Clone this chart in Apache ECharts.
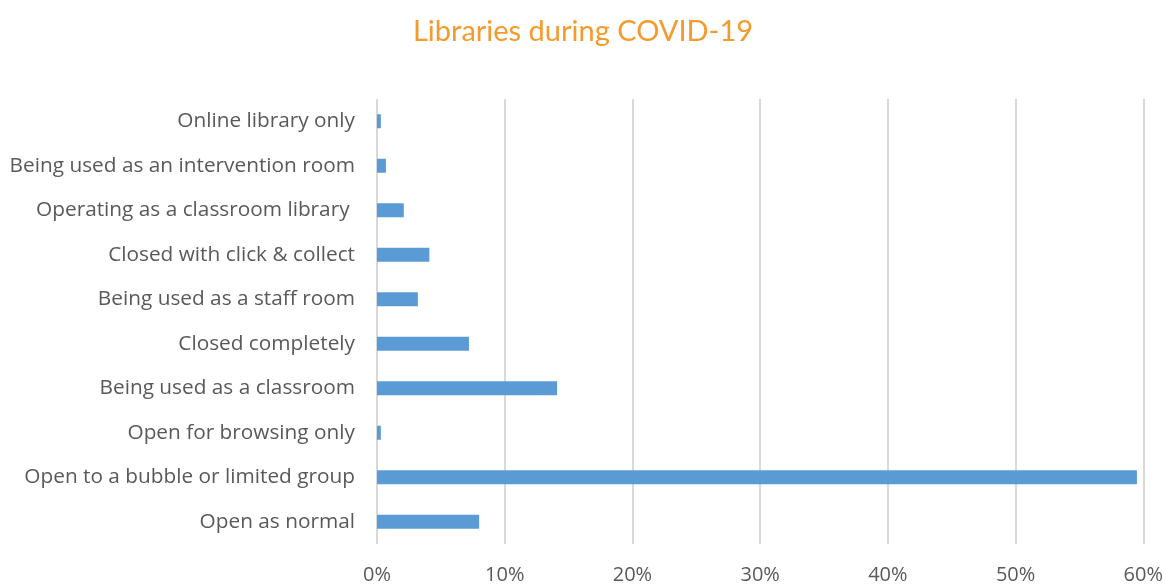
<!DOCTYPE html>
<html>
<head>
<meta charset="utf-8">
<script src="https://cdn.jsdelivr.net/npm/echarts@6/dist/echarts.min.js"></script>
<style>
  html, body { margin: 0; padding: 0; background: #fff; }
  #chart { width: 1166px; height: 585px; }
</style>
</head>
<body>
<div id="chart"></div>
<script>
// categories listed bottom to top
const categories = [
  "Open as normal",
  "Open to a bubble or limited group",
  "Open for browsing only",
  "Being used as a classroom",
  "Closed completely",
  "Being used as a staff room",
  "Closed with click & collect",
  "Operating as a classroom library ",
  "Being used as an intervention room",
  "Online library only"
];
const shares = [8.0, 59.5, 0.3, 14.1, 7.2, 3.2, 4.1, 2.1, 0.7, 0.3];
const xTicks = [0, 10, 20, 30, 40, 50, 60];

let chartDom = document.getElementById("chart");
let myChart = echarts.init(chartDom);
let option = {
  animation: false,
  title: {
    text: "Libraries during COVID-19",
    left: "center",
    top: 12,
    textStyle: {
      color: "#F59A2C",
      fontSize: 29,
      fontWeight: "normal",
      fontFamily: "Lato"
    }
  },
  grid: {
    left: 377,
    right: 21,
    top: 99,
    bottom: 40,
    containLabel: false
  },
  xAxis: {
    type: "value",
    min: xTicks[0],
    max: xTicks[xTicks.length - 1],
    interval: 10,
    axisLine: { show: false },
    axisTick: { show: false },
    splitLine: { lineStyle: { color: "#D9D9D9", width: 2 } },
    axisLabel: {
      formatter: "{value}%",
      color: "#595959",
      fontSize: 20,
      fontFamily: "Open Sans",
      margin: 21
    }
  },
  yAxis: {
    type: "category",
    data: categories,
    axisLine: { show: false },
    axisTick: { show: false },
    axisLabel: {
      color: "#595959",
      fontSize: 20.8,
      fontFamily: "Open Sans",
      margin: 22
    }
  },
  series: [
    {
      type: "bar",
      data: shares,
      barWidth: 14,
      itemStyle: { color: "#5B9BD5" }
    }
  ]
};
option && myChart.setOption(option);
</script>
</body>
</html>
